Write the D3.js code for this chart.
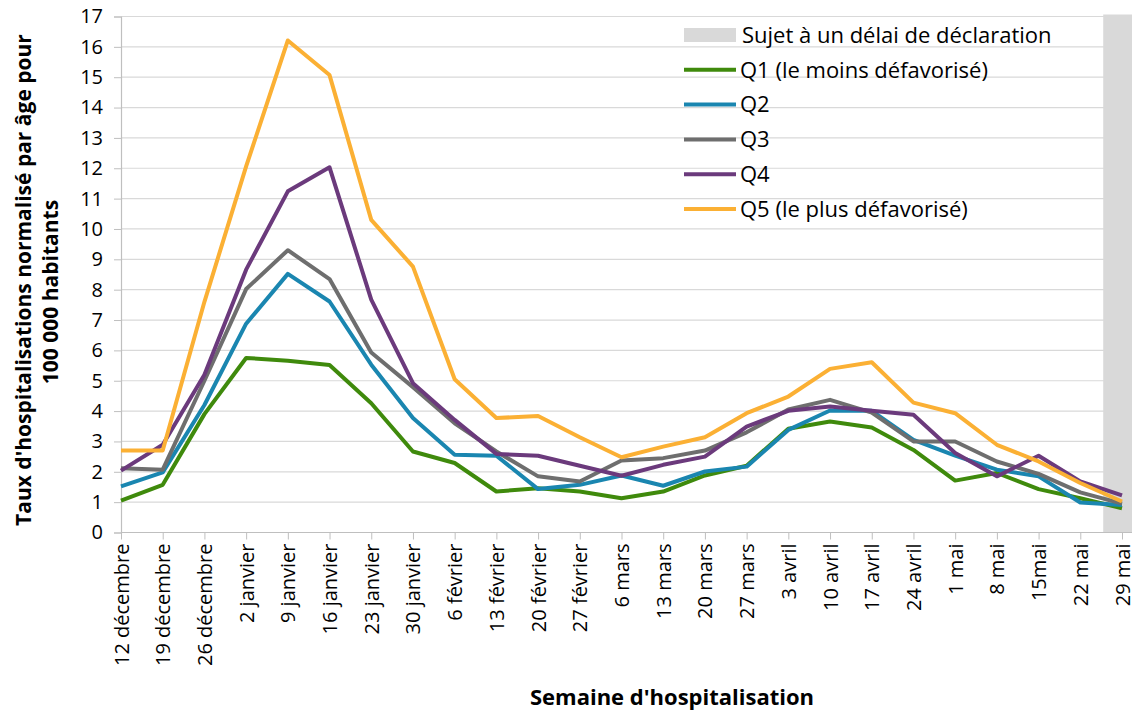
<!DOCTYPE html>
<html>
<head>
<meta charset="utf-8">
<script src="https://cdn.jsdelivr.net/npm/d3@7"></script>
<style>
  body { margin: 0; background: #fff; }
  svg text { font-family: "Open Sans", "Noto Sans", sans-serif; fill: #000; }
</style>
</head>
<body>
<div id="root"></div>
<script>
const weeks = ['12 décembre','19 décembre','26 décembre','2 janvier','9 janvier','16 janvier','23 janvier','30 janvier',
  '6 février','13 février','20 février','27 février','6 mars','13 mars','20 mars','27 mars','3 avril','10 avril',
  '17 avril','24 avril','1 mai','8 mai','15mai','22 mai','29 mai'];

const q1 = [1.05,1.57,3.9,5.75,5.66,5.52,4.26,2.67,2.29,1.35,1.46,1.35,1.13,1.35,1.88,2.2,3.42,3.66,3.46,2.72,1.71,1.96,1.43,1.13,0.8];
const q2 = [1.52,1.98,4.2,6.88,8.52,7.61,5.53,3.77,2.56,2.53,1.43,1.57,1.88,1.54,2.01,2.17,3.38,4.02,4.01,3.05,2.53,2.07,1.85,0.99,0.91];
const q3 = [2.12,2.07,5.0,8.02,9.3,8.35,5.93,4.79,3.6,2.67,1.85,1.68,2.37,2.45,2.7,3.3,4.05,4.37,3.95,3.0,3.0,2.34,1.93,1.32,0.95];
const q4 = [2.04,2.89,5.2,8.66,11.24,12.03,7.67,4.92,3.71,2.59,2.53,2.2,1.87,2.23,2.5,3.49,4.01,4.15,4.01,3.88,2.62,1.85,2.53,1.68,1.22];
const q5 = [2.7,2.7,7.6,12.06,16.21,15.07,10.3,8.76,5.05,3.77,3.84,3.14,2.48,2.83,3.14,3.93,4.48,5.39,5.61,4.28,3.93,2.89,2.34,1.63,1.02];

const seriesNames = ['Q1 (le moins défavorisé)','Q2','Q3','Q4','Q5 (le plus défavorisé)'];
const colors = ['#3f8a0c','#1a86b0','#6e6e6e','#6b3a7c','#fbb034'];
const delayLabel = 'Sujet à un délai de déclaration';
const delayWeeks = ['29 mai'];
const yTicks = d3.range(0, 18);

const width = 1132, height = 717;
const plot = {left: 121, right: 1122, top: 16.5, bottom: 532.5, edge: 1132};

const svg = d3.select('#root').append('svg')
  .attr('width', width)
  .attr('height', height);

const x = d3.scalePoint().domain(weeks).range([plot.left, plot.right]);
const y = d3.scaleLinear().domain([0, 17]).range([plot.bottom, plot.top]);
const step = x.step();

// gridlines
svg.append('g')
  .selectAll('line')
  .data(yTicks.filter(d => d > 0))
  .enter().append('line')
  .attr('x1', plot.left).attr('x2', plot.edge)
  .attr('y1', d => y(d)).attr('y2', d => y(d))
  .attr('stroke', '#d9d9d9').attr('stroke-width', 1.2);

// reporting delay band
svg.append('g')
  .selectAll('rect')
  .data(delayWeeks)
  .enter().append('rect')
  .attr('x', d => x(d) - step * 0.45)
  .attr('y', plot.top - 2)
  .attr('width', d => plot.edge - (x(d) - step * 0.45))
  .attr('height', plot.bottom - plot.top + 2)
  .attr('fill', '#d9d9d9');

// y axis
const yAxis = svg.append('g')
  .attr('transform', `translate(${plot.left},0)`)
  .call(d3.axisLeft(y).tickValues(yTicks).tickSize(7).tickPadding(11).tickFormat(d3.format('d')));
yAxis.select('.domain').attr('stroke', '#bfbfbf').attr('stroke-width', 1.2);
yAxis.selectAll('.tick line').attr('stroke', '#bfbfbf');
yAxis.selectAll('text').style('font-size', '20px').attr('fill', '#000');

// x axis
const xAxis = svg.append('g')
  .attr('transform', `translate(0,${plot.bottom})`)
  .call(d3.axisBottom(x).tickSize(7).tickSizeOuter(0));
xAxis.select('.domain').attr('stroke', '#bfbfbf').attr('stroke-width', 1.2)
  .attr('d', `M${plot.left},0H${plot.edge}`);
xAxis.selectAll('.tick line').attr('stroke', '#bfbfbf');
xAxis.selectAll('text')
  .style('font-size', '20px')
  .attr('fill', '#000')
  .attr('transform', 'rotate(-90)')
  .attr('text-anchor', 'end')
  .attr('x', -11)
  .attr('y', 0)
  .attr('dy', '0.35em');

// lines
const allSeries = [q1, q2, q3, q4, q5];
const line = d3.line().x((d, i) => x(weeks[i])).y(d => y(d));
svg.append('g')
  .selectAll('path')
  .data(allSeries)
  .enter().append('path')
  .attr('d', d => line(d))
  .attr('fill', 'none')
  .attr('stroke', (d, i) => colors[i])
  .attr('stroke-width', 4)
  .attr('stroke-linejoin', 'round');

// legend
const legend = svg.append('g').attr('transform', 'translate(684,35)');
legend.append('rect')
  .attr('x', 0).attr('y', -7)
  .attr('width', 52).attr('height', 14)
  .attr('fill', '#d9d9d9');
legend.append('text')
  .text(delayLabel)
  .attr('x', 58).attr('y', 0).attr('dy', '0.35em')
  .style('font-size', '22px');
const items = legend.selectAll('g.item')
  .data(seriesNames).enter()
  .append('g')
  .attr('class', 'item')
  .attr('transform', (d, i) => `translate(0,${34.8 * (i + 1)})`);
items.append('line')
  .attr('x1', 0).attr('x2', 52)
  .attr('stroke', (d, i) => colors[i])
  .attr('stroke-width', 4);
items.append('text')
  .text(d => d)
  .attr('x', 56).attr('y', 0).attr('dy', '0.35em')
  .style('font-size', '22px');

// axis titles
svg.append('text')
  .attr('transform', 'translate(31,280) rotate(-90)')
  .attr('text-anchor', 'middle')
  .style('font-size', '21px')
  .style('font-weight', 700)
  .text("Taux d'hospitalisations  normalisé par âge pour");
svg.append('text')
  .attr('transform', 'translate(58,292) rotate(-90)')
  .attr('text-anchor', 'middle')
  .style('font-size', '21px')
  .style('font-weight', 700)
  .text('100 000 habitants');
svg.append('text')
  .attr('x', 672).attr('y', 705)
  .attr('text-anchor', 'middle')
  .style('font-size', '22px')
  .style('font-weight', 700)
  .text("Semaine d'hospitalisation");
</script>
</body>
</html>
